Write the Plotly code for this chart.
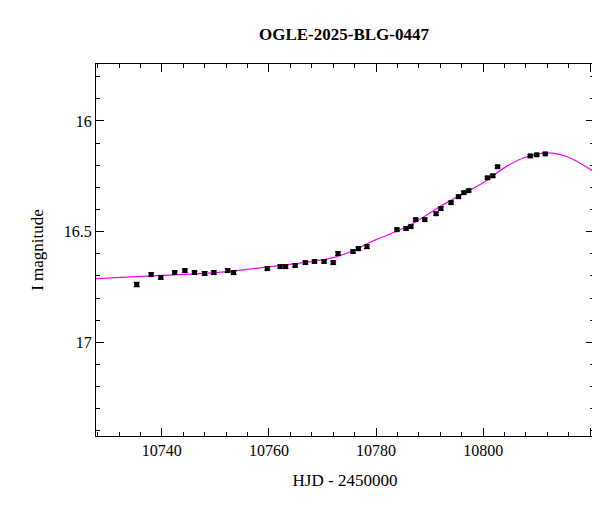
import plotly.graph_objects as go

# Photometry (HJD - 2450000, I mag)
hjd = [10735.3, 10738.0, 10739.8, 10742.4, 10744.3, 10746.1, 10748.0, 10749.7, 10752.3, 10753.4,
       10759.7, 10762.1, 10763.1, 10764.9, 10766.8, 10768.5, 10770.3, 10772.0, 10772.9, 10775.7,
       10776.7, 10778.3, 10783.9, 10785.6, 10786.5, 10787.4, 10789.1, 10791.2, 10792.1, 10794.0,
       10795.4, 10796.4, 10797.3, 10800.8, 10801.8, 10802.7, 10808.8, 10810.0, 10811.6]
mag = [16.739, 16.694, 16.707, 16.685, 16.676, 16.685, 16.689, 16.685, 16.676, 16.685,
       16.667, 16.658, 16.658, 16.653, 16.640, 16.635, 16.635, 16.640, 16.599, 16.590,
       16.577, 16.568, 16.491, 16.486, 16.477, 16.446, 16.446, 16.419, 16.396, 16.369,
       16.342, 16.324, 16.315, 16.257, 16.248, 16.207, 16.158, 16.153, 16.149]
err = [0.010, 0.008, 0.008, 0.008, 0.007, 0.007, 0.008, 0.008, 0.008, 0.009,
       0.007, 0.007, 0.007, 0.007, 0.007, 0.007, 0.007, 0.007, 0.008, 0.007,
       0.007, 0.008, 0.006, 0.007, 0.007, 0.006, 0.006, 0.007, 0.007, 0.006,
       0.006, 0.006, 0.006, 0.006, 0.006, 0.006, 0.005, 0.005, 0.005]

# Model curve
model_t = [10727.7, 10740.0, 10750.0, 10760.1, 10772.7, 10780.0, 10785.8, 10793.2, 10800.0,
           10804.5, 10808.2, 10812.0, 10815.7, 10820.7]
model_m = [16.712, 16.698, 16.685, 16.658, 16.613, 16.536, 16.477, 16.369, 16.279,
           16.203, 16.162, 16.144, 16.162, 16.230]

font = "Liberation Serif, DejaVu Serif, serif"

fig = go.Figure()
fig.add_trace(go.Scatter(x=model_t, y=model_m, mode="lines", line=dict(color="#ff00ff", width=1.2, shape="spline"),
                         hoverinfo="skip"))
fig.add_trace(go.Scatter(x=hjd, y=mag, mode="markers",
                         marker=dict(symbol="square", size=5, color="black"),
                         error_y=dict(type="data", array=err, color="black", thickness=1, width=3)))

axis = dict(showline=True, linecolor="black", linewidth=1, mirror="allticks", ticks="inside",
            ticklen=8, tickcolor="black", showgrid=False, zeroline=False,
            tickfont=dict(size=16, family=font, color="black"))
fig.update_xaxes(**axis, range=[10727.7, 10820.7], dtick=20, tick0=10740, tickformat="d",
                 minor=dict(ticks="inside", ticklen=4, dtick=4, tick0=10740, tickcolor="black"),
                 title=dict(text="HJD - 2450000", font=dict(size=17, family=font, color="black")))
fig.update_yaxes(**axis, range=[17.423, 15.743], dtick=0.5, tick0=16,
                 minor=dict(ticks="inside", ticklen=4, dtick=0.1, tick0=16, tickcolor="black"),
                 title=dict(text="I magnitude", font=dict(size=17, family=font, color="black")))
fig.update_layout(width=600, height=512, showlegend=False, plot_bgcolor="white", paper_bgcolor="white",
                  margin=dict(l=88, r=14, t=56, b=84),
                  title=dict(text="<b>OGLE-2025-BLG-0447</b>", x=0.56, y=0.96, xanchor="center",
                             font=dict(size=17, family=font, color="black")))
fig.write_html("out.html")
